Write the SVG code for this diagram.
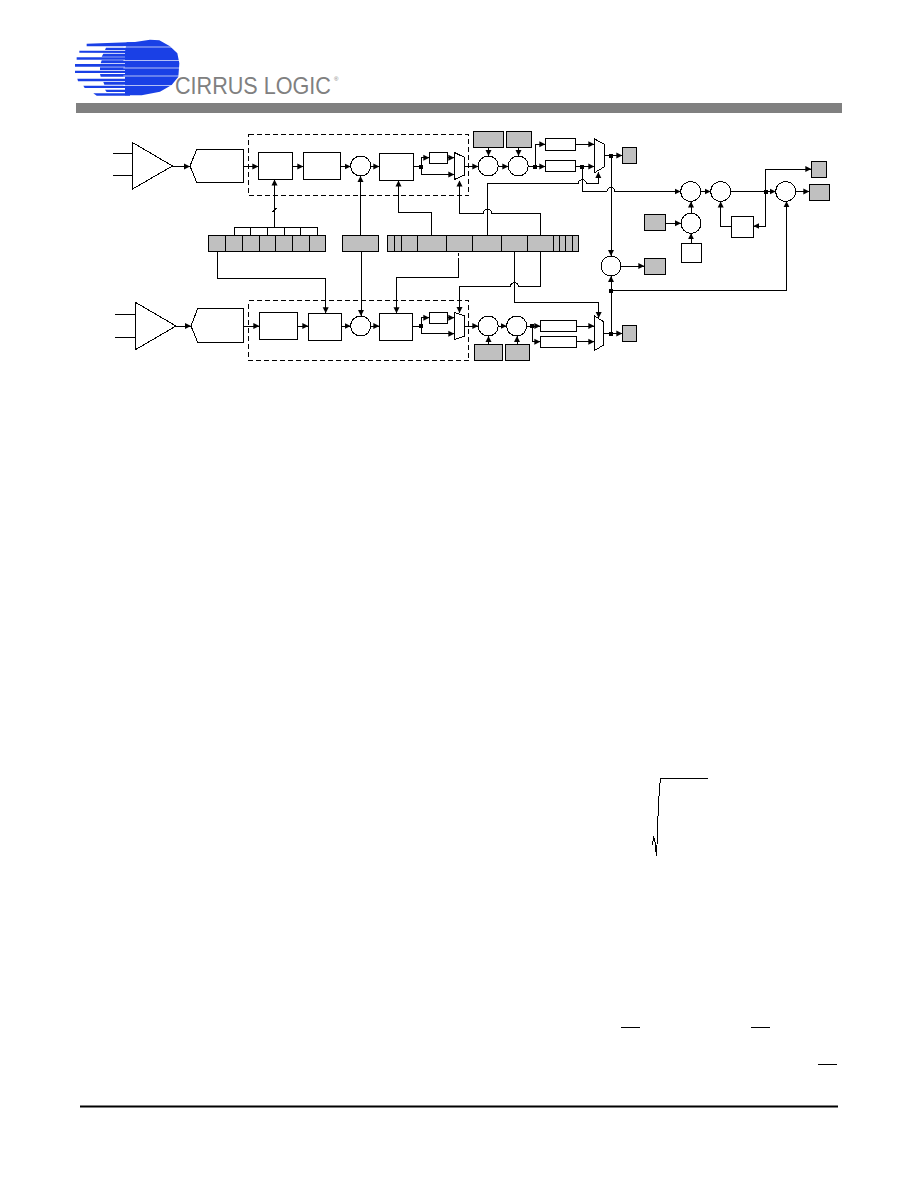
<svg xmlns="http://www.w3.org/2000/svg" width="918" height="1188" viewBox="0 0 918 1188">
<style>
.n{fill:#fff;stroke:#000;stroke-width:1;shape-rendering:crispEdges}
.g{fill:#c0c0c0;stroke:#000;stroke-width:1;shape-rendering:crispEdges}
.d{fill:none;stroke:#000;stroke-width:1;stroke-dasharray:5 3;shape-rendering:crispEdges}
.c path{fill:none;stroke:#000;stroke-width:1;shape-rendering:crispEdges}
.a{marker-end:url(#arr)}
.j{fill:#000;stroke:none;shape-rendering:crispEdges}
.b{fill:#1a40e6}
.w{fill:#fff}
</style>
<defs>
<marker id="arr" markerUnits="userSpaceOnUse" markerWidth="7" markerHeight="7" refX="6" refY="3.5" orient="auto"><path d="M0,.5 L6,3.5 L0,6.5Z" fill="#000" stroke="none"/></marker>
</defs>
<rect width="918" height="1188" fill="#fff"/>
<g id="logo">
<g transform="translate(70 35) scale(.33333)">
<path class="b" d="M190,22 L240,14 L268,16 L300,34 L322,55 L328,85 L325,125 L305,150 L270,170 L215,181 L165,181 L165,50 L170,22Z"/>
<path class="b" d="M50,26 L195,21 L195,34 L50,34Z"/>
<path class="b" d="M108,38 L180,38 L180,45 L105,45Z"/>
<path class="b" d="M28,47 L180,47 L180,54 L28,53Z"/>
<path class="b" d="M100,56 L180,56 L180,65 L95,65Z"/>
<path class="b" d="M20,67 L180,67 L180,74 L20,74Z"/>
<path class="b" d="M95,76 L180,76 L180,85 L92,85Z"/>
<path class="b" d="M15,87 L180,87 L180,95 L15,95Z"/>
<path class="b" d="M90,97 L180,97 L180,105 L90,105Z"/>
<path class="b" d="M15,107 L180,107 L180,114 L15,114Z"/>
<path class="b" d="M90,117 L180,117 L180,125 L92,125Z"/>
<path class="b" d="M22,131 L180,131 L180,139 L24,139Z"/>
<path class="b" d="M100,141 L180,141 L180,149 L103,149Z"/>
<path class="b" d="M40,152 L180,152 L180,159 L44,159Z"/>
<path class="b" d="M105,164 L180,164 L180,171 L110,171Z"/>
<path class="b" d="M70,175 L180,175 L180,182 L80,182Z"/>
<rect class="w" x="160" y="35" width="150" height="2"/>
<rect class="w" x="160" y="75" width="170" height="2"/>
<rect class="w" x="160" y="98" width="170" height="2"/>
<rect class="w" x="160" y="122" width="170" height="2"/>
<rect class="w" x="160" y="150" width="150" height="2"/>
</g>
<text transform="translate(175 93.5) scale(1 1.08)" font-family="Liberation Sans, sans-serif" font-size="21.6" fill="#808080">CIRRUS LOGIC</text>
<text x="334" y="81" font-family="Liberation Sans, sans-serif" font-size="6" fill="#808080">®</text>
</g>
<rect id="header-bar" x="76" y="103" width="766" height="10" fill="#808080"/>

<g id="connectors" class="c">
<path d="M113 153.5H132M113 175.5H132"/>
<path class="a" d="M172.5 166.5H190"/>
<path class="a" d="M243.7 166.5H258.3"/>
<path class="a" d="M292.7 166.5H303.3"/>
<path class="a" d="M340.7 166.5H350.7"/>
<path class="a" d="M370.7 166.5H379.3"/>
<path d="M413.7 166.5H421"/>
<path class="a" d="M421 166.5V157.7H429.3"/>
<path class="a" d="M447.7 157.7H454.3"/>
<path class="a" d="M421 166.5V174.5H454.3"/>
<path class="a" d="M464.7 166.5H478.3"/>
<path class="a" d="M498.3 166.5H508.3"/>
<path class="a" d="M488.5 147.7V156"/>
<path class="a" d="M518.5 147.7V156"/>
<path d="M528.3 166.5H535"/>
<path class="a" d="M535 166.5V144.3H545.3"/>
<path class="a" d="M535 166.5H545.3"/>
<path class="a" d="M575.7 144.3H594.3"/>
<path class="a" d="M571.3 166.5H594.3"/>
<path class="a" d="M582.3 166.5V191.5H607a4 4 0 0 1 8 0H680.7"/>
<path class="a" d="M487.5 235V183.7H578.3a4 4 0 0 1 8 0H598.3V172"/>
<path class="a" d="M540.5 235V213H491.5a4 4 0 0 0 -8 0H459.5V180.5"/>
<path class="a" d="M431.5 235V212.7H398.5V180.5"/>
<path d="M233.5 227.5H317.7M234.7 227.5V235M250.7 227.5V235M267.7 227.5V235M284.3 227.5V235M300.7 227.5V235M317.7 227.5V235"/>
<path class="a" d="M274.5 227.5V179.5"/>
<path d="M272.5 212L276.5 208"/>
<path class="a" d="M360.5 235V176"/>
<path class="a" d="M604 155.5H622.3"/>
<path class="a" d="M611 155.5V256"/>
<path class="a" d="M621 266H644.3"/>
<path class="a" d="M611 333.5V276"/>
<path class="a" d="M611 290.5H786.5V201.3"/>
<path class="a" d="M603.7 333.5H622.3"/>
<path class="a" d="M700.7 191.5H710.7"/>
<path d="M730.7 191.5H758"/>
<path class="a" d="M758 191.5H775.7"/>
<path class="a" d="M795.7 191.5H809.3"/>
<path class="a" d="M765.5 191.5V169H811.3"/>
<path class="a" d="M765.5 191.5V226H753.3"/>
<path class="a" d="M731.3 226H720.7V201.5"/>
<path class="a" d="M665.7 223.3H681"/>
<path class="a" d="M691 213.3V201.5"/>
<path class="a" d="M691 243.3V233.3"/>
<path d="M115 314.5H135.7M115 337.5H135.7"/>
<path class="a" d="M176 326H191"/>
<path class="a" d="M243.7 326H259.3"/>
<path class="a" d="M297.3 326H308.3"/>
<path class="a" d="M341.7 326H350.7"/>
<path class="a" d="M370.7 326H379.3"/>
<path d="M412.7 326H421"/>
<path class="a" d="M421 326V317.7H429.3"/>
<path class="a" d="M447.7 317.7H454.3"/>
<path class="a" d="M421 326V333.7H454.3"/>
<path class="a" d="M464.7 326H478.3"/>
<path class="a" d="M498.3 326H506.7"/>
<path class="a" d="M526.7 326H540.3"/>
<path class="a" d="M532.3 326V341.7H540.3"/>
<path class="a" d="M576.7 326H594.3"/>
<path class="a" d="M576.7 341.7H594.3"/>
<path class="a" d="M488.5 344.3V336"/>
<path class="a" d="M517 344.3V336"/>
<path class="a" d="M217.5 251.3V278.5H325.7V313.3"/>
<path class="a" d="M361 251.3V316"/>
<path d="M458.5 252.5V255.5"/>
<path class="a" d="M458.5 258V277.5H396.5V313.3"/>
<path class="a" d="M540.5 251.3V286.5H518.5a4 4 0 0 0 -8 0H459.5V313"/>
<path class="a" d="M514.5 251.3V302.5H598.7V318"/>
<g id="junctions">
<rect class="j" x="419" y="164.5" width="4" height="4"/><rect class="j" x="533" y="164.5" width="4" height="4"/><rect class="j" x="580.3" y="164.5" width="4" height="4"/><rect class="j" x="609" y="153.5" width="4" height="4"/><rect class="j" x="609" y="288.5" width="4" height="4"/><rect class="j" x="609" y="331.5" width="4" height="4"/><rect class="j" x="763.5" y="189.5" width="4" height="4"/><rect class="j" x="419" y="324" width="4" height="4"/><rect class="j" x="530.3" y="324" width="4" height="4"/>
</g>
</g>

<g id="top-channel">
<polygon id="amp-top" class="n" points="132.5,142.5 172.5,166 132.5,189"/>
<polygon id="adc-top" class="n" points="190,166 196.7,149.5 243.7,149.5 243.7,182.5 196.7,182.5"/>
<rect id="dash-top" class="d" x="248.5" y="134.5" width="220" height="61"/>
<rect id="t-box1" class="n" x="258.5" y="152.5" width="34" height="27"/>
<rect id="t-box2" class="n" x="303.5" y="152.5" width="37" height="27"/>
<circle id="t-sum1" class="n" cx="360.7" cy="166" r="10"/>
<rect id="t-box3" class="n" x="379.5" y="153.5" width="34" height="27"/>
<rect id="t-box4" class="n" x="429.5" y="152.5" width="18" height="11"/>
<polygon id="t-mux1" class="n" points="454.5,152.5 464.7,157.5 464.7,175 454.5,179.5"/>
<rect id="t-g1" class="g" x="473.5" y="131.5" width="30" height="16"/>
<rect id="t-g2" class="g" x="506.5" y="131.5" width="25" height="16"/>
<circle id="t-sum2" class="n" cx="488.3" cy="166" r="10"/>
<circle id="t-sum3" class="n" cx="518.3" cy="166" r="10"/>
<rect id="t-box5" class="n" x="545.5" y="138.5" width="30" height="12"/>
<rect id="t-box6" class="n" x="545.5" y="160.5" width="30" height="11"/>
<polygon id="t-mux2" class="n" points="594.5,139 604,144 604,167 594.5,172.7"/>
<rect id="t-out" class="g" x="622.5" y="147.5" width="14" height="16"/>
</g>

<g id="register-bar">
<rect id="bar1" class="g" x="208.5" y="235.5" width="117" height="16"/>
<path class="n" d="M225.5 235.5V251.5M242.5 235.5V251.5M259.5 235.5V251.5M275.5 235.5V251.5M292.5 235.5V251.5M309.5 235.5V251.5"/>
<rect id="bar2" class="g" x="342.5" y="235.5" width="36" height="16"/>
<rect id="bar3" class="g" x="387.5" y="235.5" width="191" height="16"/>
<path class="n" d="M394.5 235.5V251.5M401.5 235.5V251.5M417.5 235.5V251.5M446.5 235.5V251.5M472.5 235.5V251.5M501.5 235.5V251.5M527.5 235.5V251.5M553.5 235.5V251.5M559.5 235.5V251.5M565.5 235.5V251.5M572 235.5V251.5"/>
</g>

<g id="mix-section">
<circle id="m-sum1" class="n" cx="690.7" cy="191.5" r="10"/>
<circle id="m-sum2" class="n" cx="720.7" cy="191.5" r="10"/>
<circle id="m-sum3" class="n" cx="785.7" cy="191.5" r="10"/>
<circle id="m-sum4" class="n" cx="691" cy="223.3" r="10"/>
<circle id="m-sum5" class="n" cx="611" cy="266" r="10"/>
<rect id="m-g1" class="g" x="644.5" y="214.5" width="21" height="16"/>
<rect id="m-box1" class="n" x="681.5" y="243.5" width="20" height="19"/>
<rect id="m-box2" class="n" x="731.5" y="216.5" width="22" height="21"/>
<rect id="m-out1" class="g" x="811.5" y="161.5" width="15" height="16"/>
<rect id="m-out2" class="g" x="809.5" y="184.5" width="20" height="16"/>
<rect id="m-out3" class="g" x="644.5" y="258.5" width="21" height="16"/>
</g>

<g id="bottom-channel">
<polygon id="amp-bot" class="n" points="135.7,302.5 176,326 135.7,349.5"/>
<polygon id="adc-bot" class="n" points="191,326 197.7,308.5 243.7,308.5 243.7,342.5 197.7,342.5"/>
<rect id="dash-bot" class="d" x="248.5" y="300.5" width="220" height="60"/>
<rect id="b-box1" class="n" x="259.5" y="312.5" width="38" height="27"/>
<rect id="b-box2" class="n" x="308.5" y="313.5" width="33" height="27"/>
<circle id="b-sum1" class="n" cx="360.7" cy="326" r="10"/>
<rect id="b-box3" class="n" x="379.5" y="313.5" width="33" height="27"/>
<rect id="b-box4" class="n" x="429.5" y="312.5" width="18" height="11"/>
<polygon id="b-mux1" class="n" points="454.5,312.5 464.7,316 464.7,336 454.5,339.5"/>
<circle id="b-sum2" class="n" cx="488.3" cy="326" r="10"/>
<circle id="b-sum3" class="n" cx="516.7" cy="326" r="10"/>
<rect id="b-g1" class="g" x="474.5" y="344.5" width="28" height="16"/>
<rect id="b-g2" class="g" x="505.5" y="344.5" width="24" height="16"/>
<rect id="b-box5" class="n" x="540.5" y="320.5" width="36" height="11"/>
<rect id="b-box6" class="n" x="540.5" y="336.5" width="36" height="11"/>
<polygon id="b-mux2" class="n" points="594.5,316 603.7,321.7 603.7,345 594.5,350.5"/>
<rect id="b-out" class="g" x="622.5" y="325.5" width="14" height="16"/>
</g>

<path id="equation-root" fill="none" stroke="#000" shape-rendering="crispEdges" d="M707.7 778.5H660.5L659.5 787L658.5 806L657.5 826L657 845L656.3 855.5L655.5 846L655 842L653.5 836.5L652.5 845"/>
<g id="overbars" stroke="#000" stroke-width="1" shape-rendering="crispEdges">
<path d="M621.3 1027.5H640M751 1027.5H770M818 1064.5H837"/>
</g>
<rect id="footer-rule" x="80" y="1105.5" width="758" height="2" fill="#000"/>
</svg>
